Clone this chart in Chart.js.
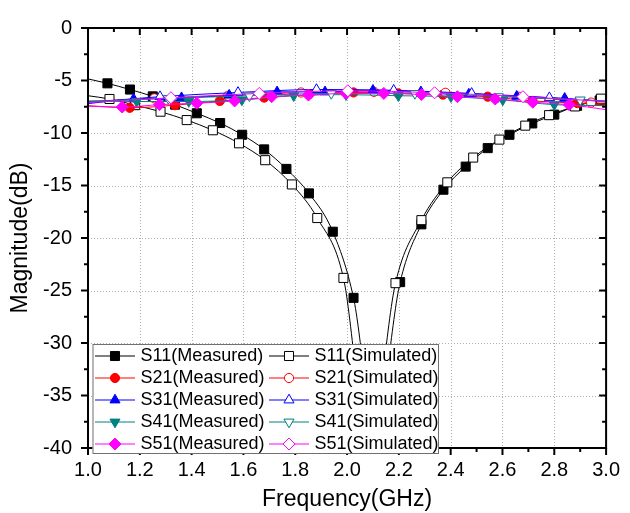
<!DOCTYPE html>
<html><head><meta charset="utf-8">
<script src="https://cdn.jsdelivr.net/npm/chart.js@4.4.1/dist/chart.umd.min.js"></script>
<style>html,body{margin:0;padding:0;background:#fff}</style>
</head><body>
<canvas id="c" width="630" height="513"></canvas>
<script>
// ---- tick labels ----
const freqTicks = [1.0,1.2,1.4,1.6,1.8,2.0,2.2,2.4,2.6,2.8,3.0];
const magTicks  = [0,-5,-10,-15,-20,-25,-30,-35,-40];

// ---- series (frequency GHz, magnitude dB) ----
const s11mF = [1.0,1.075,1.162,1.25,1.336,1.42,1.51,1.595,1.68,1.766,1.853,1.945,2.025,2.108,2.205,2.287,2.372,2.458,2.543,2.627,2.715,2.8,2.888,2.975,3.0];
const s11mV = [-4.85,-5.27,-5.86,-6.51,-7.3,-8.12,-9.05,-10.17,-11.56,-13.42,-15.75,-19.4,-25.7,-38.0,-24.2,-18.7,-15.4,-13.2,-11.44,-10.17,-9.09,-8.25,-7.41,-6.9,-6.8];
const s11sF = [1.0,1.083,1.182,1.28,1.381,1.482,1.583,1.684,1.787,1.885,1.986,2.085,2.187,2.287,2.387,2.487,2.588,2.688,2.78,2.88,2.98,3.0];
const s11sV = [-6.45,-6.76,-7.35,-7.97,-8.77,-9.74,-10.98,-12.59,-14.9,-18.1,-23.8,-39.8,-24.3,-18.3,-14.7,-12.34,-10.63,-9.3,-8.3,-7.47,-6.73,-6.6];

const s21mF = [1.0,1.161,1.336,1.509,1.68,1.853,2.025,2.198,2.37,2.543,2.716,2.889,3.0];
const s21mV = [-7.4,-7.6,-7.35,-6.95,-6.63,-6.3,-6.14,-6.23,-6.35,-6.54,-6.95,-7.15,-7.35];
const s21sF = [1.0,1.256,1.541,1.822,2.104,2.38,2.663,2.942,3.0];
const s21sV = [-7.0,-6.7,-6.45,-6.14,-6.08,-6.17,-6.54,-7.1,-7.25];

const s31mF = [1.0,1.176,1.361,1.545,1.73,1.915,2.1,2.285,2.47,2.655,2.84,3.0];
const s31mV = [-7.2,-6.76,-6.64,-6.4,-6.08,-6.08,-5.93,-6.08,-6.3,-6.5,-6.7,-7.0];
const s31sF = [1.0,1.278,1.579,1.882,2.18,2.481,2.781,3.0];
const s31sV = [-7.1,-6.54,-6.14,-5.86,-5.93,-6.23,-6.64,-7.0];

const s41mF = [1.0,1.188,1.389,1.594,1.794,1.996,2.198,2.401,2.601,2.8,3.0];
const s41mV = [-6.95,-7.0,-7.0,-6.85,-6.45,-6.35,-6.45,-6.54,-6.85,-7.3,-7.4];
const s41sF = [1.0,1.31,1.623,1.939,2.262,2.584,2.9,3.0];
const s41sV = [-7.0,-6.7,-6.45,-6.23,-6.23,-6.54,-6.85,-6.95];

const s51mF = [1.0,1.132,1.276,1.42,1.566,1.709,1.851,1.996,2.142,2.287,2.426,2.572,2.717,2.857,3.0];
const s51mV = [-7.45,-7.53,-7.3,-7.16,-6.95,-6.54,-6.39,-6.23,-6.23,-6.33,-6.54,-6.76,-7.07,-7.3,-7.78];
const s51sF = [1.0,1.32,1.661,2.003,2.338,2.679,3.0];
const s51sV = [-7.1,-6.64,-6.23,-5.98,-6.17,-6.54,-7.0];

const F = "'Liberation Sans', Arial, sans-serif";
const RAD = {rect:6.4, circle:4.6, triangle:5.8, rectRot:6};

function ds(label, fx, vy, color, style, filled, rot, idx) {
  return {
    label,
    data: fx.map((f,i)=>({x:f, y:vy[i]})),
    showLine: true,
    borderColor: color,
    borderWidth: 1,
    cubicInterpolationMode: 'monotone',
    pointStyle: style,
    pointRotation: rot,
    pointRadius: c => (c.raw && (c.raw.x <= 1.0 || c.raw.x >= 3.0)) ? 0 : RAD[style],
    pointHoverRadius: 0,
    pointBackgroundColor: filled ? color : '#ffffff',
    pointBorderColor: color,
    pointBorderWidth: 1,
    order: 10 - idx,
    _filled: filled
  };
}

const datasets = [
  ds('S11(Measured)',  s11mF, s11mV, '#000000', 'rect',     true,  0,   0),
  ds('S11(Simulated)', s11sF, s11sV, '#000000', 'rect',     false, 0,   1),
  ds('S21(Measured)',  s21mF, s21mV, '#ff0000', 'circle',   true,  0,   2),
  ds('S21(Simulated)', s21sF, s21sV, '#ff0000', 'circle',   false, 0,   3),
  ds('S31(Measured)',  s31mF, s31mV, '#0000ff', 'triangle', true,  0,   4),
  ds('S31(Simulated)', s31sF, s31sV, '#0000ff', 'triangle', false, 0,   5),
  ds('S41(Measured)',  s41mF, s41mV, '#008080', 'triangle', true,  180, 6),
  ds('S41(Simulated)', s41sF, s41sV, '#008080', 'triangle', false, 180, 7),
  ds('S51(Measured)',  s51mF, s51mV, '#ff00ff', 'rectRot',  true,  0,   8),
  ds('S51(Simulated)', s51sF, s51sV, '#ff00ff', 'rectRot',  false, 0,   9)
];

function drawMarker(ctx, style, r, rot, x, y, fill, stroke) {
  ctx.beginPath();
  if (style === 'rect') { const s = Math.SQRT1_2 * r; ctx.rect(x - s, y - s, 2*s, 2*s); }
  else if (style === 'circle') { ctx.arc(x, y, r, 0, Math.PI*2); }
  else if (style === 'triangle') {
    let a = rot * Math.PI / 180;
    ctx.moveTo(x + Math.sin(a)*r, y - Math.cos(a)*r);
    a += 2*Math.PI/3; ctx.lineTo(x + Math.sin(a)*r, y - Math.cos(a)*r);
    a += 2*Math.PI/3; ctx.lineTo(x + Math.sin(a)*r, y - Math.cos(a)*r);
    ctx.closePath();
  } else if (style === 'rectRot') {
    ctx.moveTo(x - r, y); ctx.lineTo(x, y - r); ctx.lineTo(x + r, y); ctx.lineTo(x, y + r); ctx.closePath();
  }
  ctx.fillStyle = fill; ctx.fill();
  ctx.lineWidth = 1; ctx.strokeStyle = stroke; ctx.stroke();
}

function mids(arr) { const m = []; for (let i = 0; i < arr.length - 1; i++) m.push((arr[i] + arr[i+1]) / 2); return m; }

const framePlugin = {
  id: 'frame',
  beforeDatasetsDraw(chart) {
    const {ctx, chartArea: a, scales: {x, y}} = chart;
    ctx.save();
    ctx.strokeStyle = '#b0b0b0'; ctx.lineWidth = 1; ctx.setLineDash([1, 2]);
    freqTicks.forEach(v => {
      if (v <= 1.0 || v >= 3.0) return;
      const px = Math.round(x.getPixelForValue(v)) + 0.5;
      ctx.beginPath(); ctx.moveTo(px, a.top); ctx.lineTo(px, a.bottom); ctx.stroke();
    });
    magTicks.forEach(v => {
      if (v >= 0 || v <= -40) return;
      const py = Math.round(y.getPixelForValue(v)) + 0.5;
      ctx.beginPath(); ctx.moveTo(a.left, py); ctx.lineTo(a.right, py); ctx.stroke();
    });
    ctx.restore();
  },
  afterDatasetsDraw(chart) {
    const {ctx, chartArea: a, scales: {x, y}} = chart;
    ctx.save();
    ctx.strokeStyle = '#000'; ctx.lineWidth = 2;
    ctx.strokeRect(a.left, a.top, a.right - a.left, a.bottom - a.top);
    const tick = (x1, y1, x2, y2) => { ctx.beginPath(); ctx.moveTo(x1, y1); ctx.lineTo(x2, y2); ctx.stroke(); };
    ctx.lineWidth = 2;
    const MJ = 7, MN = 4;
    freqTicks.forEach(v => { const px = x.getPixelForValue(v); tick(px, a.bottom, px, a.bottom + MJ); tick(px, a.top, px, a.top + MJ); });
    mids(freqTicks).forEach(v => { const px = x.getPixelForValue(v); tick(px, a.bottom, px, a.bottom + MN); tick(px, a.top, px, a.top + MN); });
    magTicks.forEach(v => { const py = y.getPixelForValue(v); tick(a.left, py, a.left - MJ, py); tick(a.right, py, a.right - MJ, py); });
    mids(magTicks).forEach(v => { const py = y.getPixelForValue(v); tick(a.left, py, a.left - MN, py); tick(a.right, py, a.right - MN, py); });
    ctx.restore();
  },
  afterDraw(chart) {
    const {ctx, chartArea: a} = chart;
    const bx = a.left + 4.5, by = a.top + 316, bw = 345.5, bh = 109;
    ctx.save();
    ctx.fillStyle = '#ffffff';
    ctx.fillRect(bx, by, bw, bh);
    ctx.strokeStyle = '#707070'; ctx.lineWidth = 1;
    ctx.strokeRect(bx + 0.5, by + 0.5, bw, bh);
    ctx.font = '18px ' + F;
    ctx.textBaseline = 'middle'; ctx.textAlign = 'left';
    chart.data.datasets.forEach((d, i) => {
      const row = Math.floor(i / 2), col = i % 2;
      const ry = by + 11.5 + row * 22;
      const lx = col === 0 ? bx + 2.5 : bx + 176.5;
      ctx.strokeStyle = d.borderColor; ctx.lineWidth = 1;
      ctx.beginPath(); ctx.moveTo(lx, ry + 0.5); ctx.lineTo(lx + 40, ry + 0.5); ctx.stroke();
      drawMarker(ctx, d.pointStyle, RAD[d.pointStyle], d.pointRotation, lx + 20, ry + 0.5,
                 d._filled ? d.borderColor : '#ffffff', d.borderColor);
      ctx.fillStyle = '#000';
      ctx.fillText(d.label, lx + 45.5, ry + 1);
    });
    ctx.restore();
  }
};

new Chart(document.getElementById('c'), {
  type: 'scatter',
  data: { datasets },
  options: {
    responsive: false,
    animation: false,
    events: [],
    layout: { padding: { left: 0, top: 18, right: 15.5, bottom: 0 } },
    plugins: { legend: { display: false }, tooltip: { enabled: false } },
    scales: {
      x: {
        type: 'linear', min: 1.0, max: 3.0,
        afterBuildTicks: s => { s.ticks = freqTicks.map(v => ({ value: v })); },
        afterFit: s => { s.height = 65; },
        ticks: { font: { family: F, size: 20 }, color: '#000', padding: 10, maxRotation: 0, autoSkip: false,
                 callback: v => Number(v).toFixed(1) },
        grid: { display: false, drawTicks: false },
        border: { display: false },
        title: { display: true, text: 'Frequency(GHz)', color: '#000', font: { family: F, size: 23 }, padding: { top: 0, bottom: 0 } }
      },
      y: {
        type: 'linear', min: -40, max: 0,
        afterBuildTicks: s => { s.ticks = magTicks.map(v => ({ value: v })); },
        afterFit: s => { s.width = 88; },
        ticks: { font: { family: F, size: 20 }, color: '#000', padding: 16, autoSkip: false,
                 callback: v => String(v) },
        grid: { display: false, drawTicks: false },
        border: { display: false },
        title: { display: true, text: 'Magnitude(dB)', color: '#000', font: { family: F, size: 23 }, padding: { top: 7, bottom: 0 } }
      }
    }
  },
  plugins: [framePlugin]
});
</script>
</body></html>
